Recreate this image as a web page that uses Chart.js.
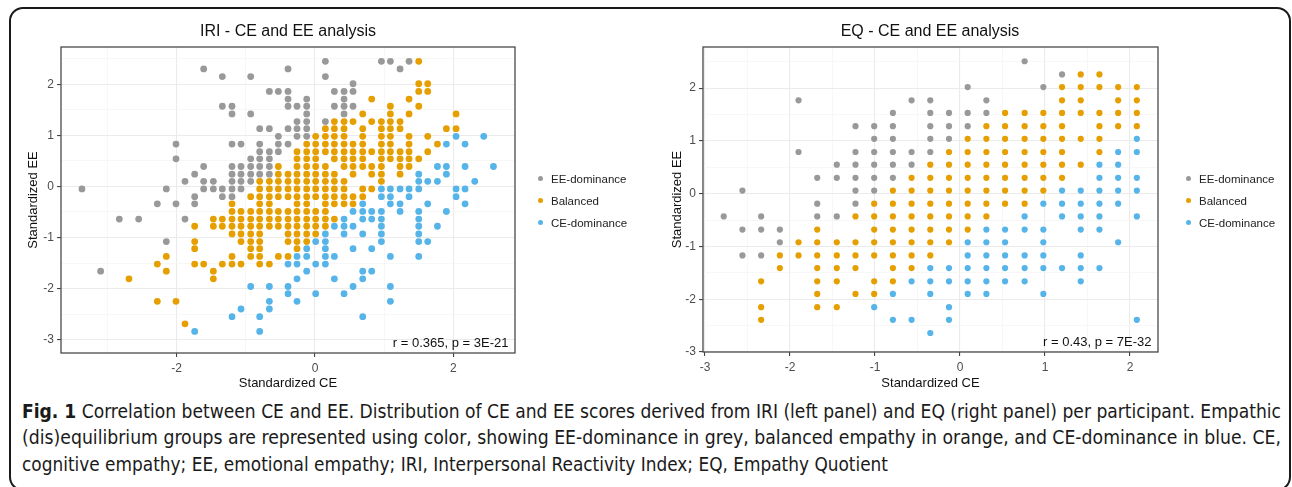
<!DOCTYPE html>
<html>
<head>
<meta charset="utf-8">
<script src="https://cdn.jsdelivr.net/npm/chart.js@4.4.1/dist/chart.umd.min.js"></script>
<style>
  body { margin: 0; width: 1292px; height: 487px; overflow: hidden; position: relative; background: #fff;
         font-family: "Liberation Sans", Arial, sans-serif; }
  #frame { position: absolute; left: 9px; top: 7px; width: 1278px; height: 480px; border: 2px solid #1a1a1a; border-radius: 14px; }
  canvas { position: absolute; top: 0; }
  .ptitle { position: absolute; top: 21px; font-size: 16px; line-height: 20px; color: #111; white-space: nowrap; transform: translateX(-50%); }
  .leg { position: absolute; font-size: 11.5px; color: #222; }
  .leg div { height: 22px; line-height: 22px; white-space: nowrap; }
  .leg span { display: inline-block; width: 5px; height: 5px; border-radius: 50%; margin-right: 8.5px; vertical-align: middle; position: relative; top: -1px; }
  .cap { position: absolute; left: 22px; font-family: "Liberation Sans Narrow", "DejaVu Sans Condensed", "Liberation Sans", sans-serif;
         font-size: 19px; line-height: 22px; color: #1a1a1a; white-space: nowrap; transform-origin: 0 50%; }
</style>
</head>
<body>
<div id="frame"></div>
<canvas id="iriChart" width="640" height="400" style="left:0"></canvas>
<canvas id="eqChart" width="652" height="400" style="left:640px"></canvas>

<div class="ptitle" style="left:288px">IRI - CE and EE analysis</div>
<div class="ptitle" style="left:930px">EQ - CE and EE analysis</div>

<div class="leg" style="left:537.5px;top:168px">
  <div><span style="background:#999999"></span>EE-dominance</div>
  <div><span style="background:#E69F00"></span>Balanced</div>
  <div><span style="background:#56B4E9"></span>CE-dominance</div>
</div>
<div class="leg" style="left:1185.5px;top:168px">
  <div><span style="background:#999999"></span>EE-dominance</div>
  <div><span style="background:#E69F00"></span>Balanced</div>
  <div><span style="background:#56B4E9"></span>CE-dominance</div>
</div>

<div class="cap" id="cap1" data-w="1259" style="top:400px"><b>Fig. 1</b> Correlation between CE and EE. Distribution of CE and EE scores derived from IRI (left panel) and EQ (right panel) per participant. Empathic</div>
<div class="cap" id="cap2" data-w="1259" style="top:426px">(dis)equilibrium groups are represented using color, showing EE-dominance in grey, balanced empathy in orange, and CE-dominance in blue. CE,</div>
<div class="cap" id="cap3" data-w="866" style="top:453px">cognitive empathy; EE, emotional empathy; IRI, Interpersonal Reactivity Index; EQ, Empathy Quotient</div>

<script>
const FONT = '"Liberation Sans", Arial, sans-serif';
const groupLabels = ['EE-dominance', 'Balanced', 'CE-dominance'];
const groupColors = ['#999999', '#E69F00', '#56B4E9'];

// IRI panel, one entry per row of dots: [standardized EE, standardized CE values...]
const iriEERows = [
  [2.45, 0.15, 0.96, 1.09, 1.36],
  [2.30, -1.61, -0.39, 1.23],
  [2.15, -1.34, -0.93, 0.15],
  [2.01, 0.55],
  [1.86, -0.66, -0.53, -0.39, 0.28, 0.42, 0.55],
  [1.71, -0.39, -0.12, 0.42],
  [1.57, -1.34, -1.20, -0.39, -0.26, -0.12, 0.28, 0.42, 0.55],
  [1.42, -1.20, -0.93, -0.12, 0.42],
  [1.27, -0.26, -0.12, 0.15],
  [1.13, -0.80, -0.66, -0.39, -0.26, -0.12],
  [0.98, -0.53, -0.26, -0.12],
  [0.83, -2.01, -1.20, -1.07, -0.80, -0.53, -0.39],
  [0.68, -0.80, -0.66, -0.53],
  [0.54, -2.01, -0.93, -0.80, -0.66],
  [0.39, -1.61, -1.20, -1.07, -0.93, -0.80, -0.66],
  [0.24, -1.74, -1.20, -1.07, -0.93, -0.80, -0.66],
  [0.10, -1.88, -1.61, -1.47, -1.20, -1.07, -0.93],
  [-0.05, -3.37, -2.15, -1.61, -1.47, -1.34, -1.20, -1.07],
  [-0.20, -1.74, -1.34, -1.20],
  [-0.34, -2.28, -2.01, -1.74],
  [-0.64, -2.83, -2.55, -1.88],
  [-1.08, -2.15],
  [-1.66, -3.10]
];
const iriBalRows = [
  [2.45, 1.50],
  [2.01, 1.50, 1.63],
  [1.86, 1.50, 1.63],
  [1.71, 0.82, 1.36],
  [1.57, 1.09, 1.50],
  [1.42, 0.69, 1.09, 1.36, 2.04],
  [1.27, 0.28, 0.42, 0.55, 0.82, 0.96, 1.09, 1.23],
  [1.13, 0.15, 0.28, 0.42, 0.69, 0.96, 1.09, 1.23, 1.90, 2.04],
  [0.98, 0.01, 0.15, 0.28, 0.42, 0.69, 0.96, 1.09, 1.36, 1.63],
  [0.83, -0.12, 0.01, 0.15, 0.28, 0.42, 0.55, 0.69, 0.96, 1.09, 1.36, 1.77],
  [0.68, -0.26, -0.12, 0.01, 0.15, 0.28, 0.42, 0.55, 0.69, 0.82, 0.96, 1.09, 1.23, 1.36, 1.63],
  [0.54, -0.26, -0.12, 0.01, 0.28, 0.42, 0.55, 0.69, 0.96, 1.09, 1.23, 1.36, 1.50],
  [0.39, -0.53, -0.26, -0.12, 0.01, 0.15, 0.42, 0.55, 0.69, 0.82, 0.96, 1.23, 1.36],
  [0.24, -0.53, -0.39, -0.26, -0.12, 0.01, 0.15, 0.28, 0.55, 0.82, 0.96, 1.23],
  [0.10, -0.80, -0.66, -0.53, -0.39, -0.26, -0.12, 0.01, 0.15, 0.28, 0.42, 0.96],
  [-0.05, -0.80, -0.66, -0.53, -0.39, -0.26, -0.12, 0.01, 0.15, 0.28, 0.42, 0.69, 0.82],
  [-0.20, -0.93, -0.80, -0.66, -0.53, -0.39, -0.26, -0.12, 0.01, 0.15, 0.28, 0.42, 0.55, 0.69],
  [-0.34, -1.20, -0.80, -0.66, -0.26, -0.12, 0.15, 0.28, 0.42, 0.55],
  [-0.49, -1.20, -1.07, -0.93, -0.80, -0.66, -0.53, -0.39, -0.26, -0.12, 0.01, 0.15],
  [-0.64, -1.47, -1.34, -1.20, -1.07, -0.93, -0.80, -0.66, -0.53, -0.39, -0.26, -0.12, 0.01, 0.15, 0.28],
  [-0.78, -1.74, -1.47, -1.34, -1.20, -1.07, -0.93, -0.80, -0.66, -0.53, -0.39, -0.26, -0.12, 0.01, 0.15],
  [-0.93, -1.20, -1.07, -0.93, -0.80, -0.39, -0.26, -0.12, 0.01],
  [-1.08, -1.74, -1.07, -0.93, -0.80, -0.39, -0.26, -0.12],
  [-1.22, -1.74, -0.93, -0.80, -0.26],
  [-1.37, -2.15, -1.20, -0.93, -0.80, -0.53, -0.39],
  [-1.52, -2.28, -1.74, -1.61, -1.34, -1.20, -1.07, -0.80, -0.66],
  [-1.66, -2.15, -1.47],
  [-1.81, -2.69, -1.47],
  [-2.25, -2.28, -2.01],
  [-2.69, -1.88]
];
const iriCERows = [
  [0.98, 2.04, 2.44],
  [0.83, 1.90, 2.17],
  [0.39, 1.77, 1.90, 2.17, 2.58],
  [0.24, 1.50, 1.90],
  [0.10, 1.50, 1.63, 1.77, 2.31],
  [-0.05, 0.96, 1.09, 1.23, 1.36, 1.50, 2.04, 2.17],
  [-0.20, 0.96, 1.09, 1.36, 2.04],
  [-0.34, 0.69, 1.09, 1.23, 1.63, 2.17],
  [-0.49, 0.55, 0.69, 0.82, 0.96, 1.23, 1.50, 1.90],
  [-0.64, 0.42, 0.69, 0.82, 0.96, 1.50],
  [-0.78, 0.28, 0.42, 0.55, 0.96, 1.50, 1.77],
  [-0.93, 0.15, 0.42, 0.69, 0.96, 1.50],
  [-1.08, 0.01, 0.15, 0.96, 1.50, 1.63],
  [-1.22, -0.12, 0.15, 0.55, 0.82],
  [-1.37, -0.26, -0.12, 0.15, 0.28, 1.09, 1.50],
  [-1.52, -0.39, -0.26, 0.01, 0.15],
  [-1.66, -0.12, 0.69, 0.82],
  [-1.81, -0.26, 0.28, 0.69],
  [-1.96, -0.93, -0.66, -0.39, 0.55, 1.09],
  [-2.10, -0.39, 0.01, 0.42],
  [-2.25, -0.66, -0.26, 1.09],
  [-2.40, -1.07, -0.66],
  [-2.55, -1.20, -0.80, 0.69],
  [-2.84, -1.74, -0.80]
];

// EQ panel, one entry per column of dots: [standardized CE, standardized EE values...]
const eqEECols = [
  [-2.78, -0.43],
  [-2.56, 0.06, -0.68, -1.17],
  [-2.34, -0.43, -0.68, -1.17],
  [-2.12, -0.68, -0.92],
  [-1.90, 1.77, 0.79],
  [-1.68, 0.30, -0.19, -0.43],
  [-1.45, 0.55, 0.30, -0.43],
  [-1.23, 1.28, 0.79, 0.55, 0.30, 0.06, -0.19],
  [-1.01, 1.28, 1.04, 0.79, 0.55, 0.30, 0.06],
  [-0.79, 1.53, 1.28, 1.04, 0.79, 0.55, 0.30],
  [-0.57, 1.77, 0.79, 0.55],
  [-0.35, 1.77, 1.53, 1.28, 1.04, 0.79],
  [-0.13, 1.53, 1.28, 1.04],
  [0.09, 2.02, 1.53, 1.28],
  [0.31, 1.77, 1.53],
  [0.76, 2.51],
  [0.98, 2.02],
  [1.20, 2.26]
];
const eqBalCols = [
  [-2.34, -1.66, -2.15, -2.39],
  [-2.12, -1.17, -1.41],
  [-1.90, -0.92, -1.17],
  [-1.68, -0.68, -0.92, -1.17, -1.41, -1.66, -1.90, -2.15],
  [-1.45, -0.92, -1.17, -1.41, -1.66, -2.15],
  [-1.23, -0.43, -0.92, -1.17, -1.41, -1.90],
  [-1.01, -0.19, -0.43, -0.68, -0.92, -1.17, -1.66, -1.90],
  [-0.79, 0.06, -0.19, -0.43, -0.68, -0.92, -1.17, -1.41, -1.66],
  [-0.57, 0.30, 0.06, -0.19, -0.43, -0.68, -0.92, -1.17, -1.41],
  [-0.35, 0.55, 0.30, 0.06, -0.19, -0.43, -0.68, -0.92, -1.17],
  [-0.13, 0.79, 0.55, 0.30, 0.06, -0.19, -0.43, -0.68, -0.92],
  [0.09, 1.04, 0.79, 0.55, 0.30, 0.06, -0.19, -0.43, -0.68],
  [0.31, 1.28, 1.04, 0.79, 0.55, 0.30, 0.06, -0.19, -0.43],
  [0.53, 1.53, 1.28, 1.04, 0.79, 0.55, 0.30, 0.06, -0.19],
  [0.76, 1.53, 1.28, 1.04, 0.79, 0.55, 0.30, 0.06, -0.19],
  [0.98, 1.53, 1.28, 1.04, 0.79, 0.55, 0.30, 0.06],
  [1.20, 2.02, 1.77, 1.53, 1.28, 1.04, 0.79, 0.55, 0.30],
  [1.42, 2.26, 2.02, 1.77, 1.53, 1.04, 0.55],
  [1.64, 2.26, 2.02, 1.53, 1.28, 1.04, 0.79],
  [1.86, 2.02, 1.77, 1.53, 1.28],
  [2.08, 2.02, 1.77, 1.53, 1.28]
];
const eqCECols = [
  [-1.01, -2.15],
  [-0.79, -1.90, -2.39],
  [-0.57, -1.66, -2.39],
  [-0.35, -1.41, -1.66, -1.90, -2.64],
  [-0.13, -1.41, -1.66, -2.15, -2.39],
  [0.09, -0.92, -1.17, -1.41, -1.66, -1.90],
  [0.31, -0.68, -0.92, -1.17, -1.41, -1.66, -1.90],
  [0.53, -0.68, -0.92, -1.17, -1.41, -1.66],
  [0.76, -0.43, -0.68, -1.17, -1.41, -1.66],
  [0.98, -0.19, -0.68, -0.92, -1.17, -1.41, -1.90],
  [1.20, 0.06, -0.19, -0.43, -1.41],
  [1.42, 0.06, -0.19, -0.43, -0.68, -1.17, -1.41, -1.66],
  [1.64, 0.55, 0.30, 0.06, -0.19, -0.43, -0.68, -1.41],
  [1.86, 0.79, 0.55, 0.30, 0.06, -0.19, -0.92],
  [2.08, 1.04, 0.79, 0.30, 0.06, -0.43, -2.39]
];

// axis grid values (major ones get a label)
const iriXGrid = [-3, -2, -1, 0, 1, 2];
const iriXMajor = [-2, 0, 2];
const iriYGrid = [-3, -2.5, -2, -1.5, -1, -0.5, 0, 0.5, 1, 1.5, 2, 2.5];
const eqXGrid = [-3, -2.5, -2, -1.5, -1, -0.5, 0, 0.5, 1, 1.5, 2];
const eqYGrid = [-3, -2.5, -2, -1.5, -1, -0.5, 0, 0.5, 1, 1.5, 2, 2.5];
const intMajor = [-3, -2, -1, 0, 1, 2];

function rowsToPoints(rows) {
  const pts = [];
  rows.forEach(r => r.slice(1).forEach(x => pts.push({ x: x, y: r[0] })));
  return pts;
}
function colsToPoints(cols) {
  const pts = [];
  cols.forEach(c => c.slice(1).forEach(y => pts.push({ x: c[0], y: y })));
  return pts;
}

// panel border + r/p note, drawn on top like ggplot's theme_bw
const panelFrame = {
  id: 'panelFrame',
  afterDraw(chart, args, opts) {
    const { ctx, chartArea: a } = chart;
    ctx.save();
    ctx.strokeStyle = '#4a4a4a';
    ctx.lineWidth = 1.3;
    ctx.strokeRect(a.left, a.top, a.right - a.left, a.bottom - a.top);
    ctx.font = '13px ' + FONT;
    ctx.fillStyle = '#111';
    ctx.textAlign = 'right';
    ctx.textBaseline = 'alphabetic';
    ctx.fillText(opts.note, a.right - 6.5, a.bottom - 6);
    ctx.restore();
  }
};

function axis(grid, major, label, isX, opt) {
  const isMajor = v => major.includes(v);
  const s = {
    type: 'linear',
    min: isX ? opt.xMin : opt.yMin,
    max: isX ? opt.xMax : opt.yMax,
    afterBuildTicks: sc => { sc.ticks = grid.map(v => ({ value: v })); },
    ticks: {
      autoSkip: false, maxRotation: 0, color: '#4d4d4d', padding: isX ? 4 : 3,
      font: { size: 12, family: FONT },
      callback: v => isMajor(v) ? String(v) : ''
    },
    grid: {
      color: c => isMajor(c.tick.value) ? '#ebebeb' : '#f5f5f5',
      lineWidth: c => isMajor(c.tick.value) ? 1.1 : 0.8,
      tickColor: c => isMajor(c.tick.value) ? '#444' : 'rgba(0,0,0,0)',
      tickLength: 4
    },
    border: { display: false },
    title: {
      display: true, text: label, color: '#111',
      font: { size: 13, family: FONT },
      padding: isX ? { top: 0, bottom: 9 } : { top: opt.yTitlePad, bottom: 0 }
    }
  };
  if (isX) s.afterFit = sc => { sc.height = opt.xAxisH; };
  else s.afterFit = sc => { sc.width = opt.yAxisW; };
  return s;
}

function drawPanel(id, groups, opt) {
  return new Chart(document.getElementById(id), {
    type: 'scatter',
    data: {
      datasets: groups.map((g, i) => ({
        label: groupLabels[i],
        data: g,
        backgroundColor: groupColors[i],
        borderWidth: 0,
        pointRadius: opt.radius,
        pointHoverRadius: opt.radius
      }))
    },
    options: {
      responsive: false,
      animation: false,
      events: [],
      layout: { padding: { left: 0, top: 47, right: opt.padRight, bottom: 0 } },
      plugins: { legend: { display: false }, tooltip: { enabled: false }, panelFrame: { note: opt.note } },
      scales: {
        x: axis(opt.xGrid, opt.xMajor, 'Standardized CE', true, opt),
        y: axis(opt.yGrid, intMajor, 'Standardized EE', false, opt)
      }
    },
    plugins: [panelFrame]
  });
}

drawPanel('iriChart', [rowsToPoints(iriEERows), rowsToPoints(iriBalRows), rowsToPoints(iriCERows)], {
  xMin: -3.673, xMax: 2.892, yMin: -3.262, yMax: 2.73,
  xGrid: iriXGrid, xMajor: iriXMajor, yGrid: iriYGrid,
  yAxisW: 61, xAxisH: 47, padRight: 125, yTitlePad: 26,
  radius: 3.4, note: 'r = 0.365, p = 3E-21'
});

drawPanel('eqChart', [colsToPoints(eqEECols), colsToPoints(eqBalCols), colsToPoints(eqCECols)], {
  xMin: -3.024, xMax: 2.329, yMin: -3.0, yMax: 2.78,
  xGrid: eqXGrid, xMajor: intMajor, yGrid: eqYGrid,
  yAxisW: 63, xAxisH: 48, padRight: 134, yTitlePad: 29.5,
  radius: 3.1, note: 'r = 0.43, p = 7E-32'
});

// stretch each caption line to the width it has in the figure
document.querySelectorAll('.cap').forEach(el => {
  const w = el.getBoundingClientRect().width;
  el.style.transform = 'scaleX(' + (Number(el.dataset.w) / w) + ')';
});
</script>
</body>
</html>
